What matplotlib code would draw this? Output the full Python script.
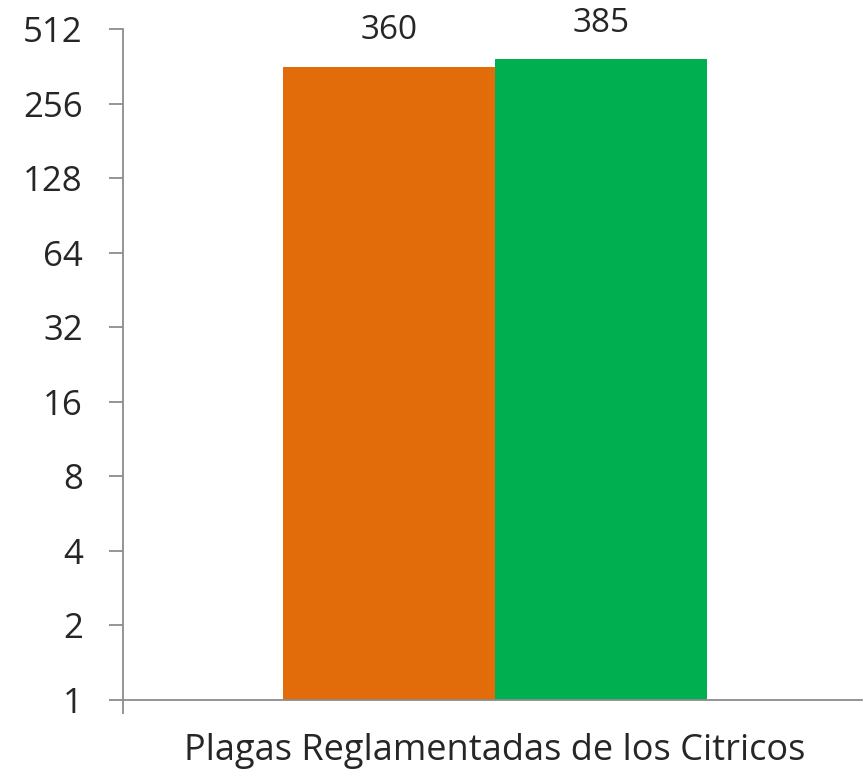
import matplotlib.pyplot as plt

category = "Plagas Reglamentadas de los Citricos"
series_values = [360, 385]
series_colors = ["#E36C0A", "#00B050"]
y_ticks = [1, 2, 4, 8, 16, 32, 64, 128, 256, 512]

plt.rcParams['font.family'] = ['Open Sans', 'DejaVu Sans']

fig = plt.figure(figsize=(8.63, 7.69), dpi=100)
ax = fig.add_axes([123 / 863, 1 - 700 / 769, 739 / 863, 671 / 769])

w = 212 / 739
xs = [-w / 2, w / 2]
for x, v, c in zip(xs, series_values, series_colors):
    ax.bar(x, v, width=w, color=c, bottom=1)
    ax.annotate(str(v), (x, v), xytext=(0, 26), textcoords='offset points',
                ha='center', va='center', fontsize=24, color='#262626')

ax.set_yscale('log', base=2)
ax.set_ylim(1, 512)
ax.set_yticks(y_ticks)
ax.set_yticklabels([str(t) for t in y_ticks])
ax.minorticks_off()
ax.set_xlim(-0.5035, 0.4965)
ax.set_xticks([0])
ax.set_xticklabels([category])
ax.set_xticks([-0.5035], minor=True)

for s in ['top', 'right']:
    ax.spines[s].set_visible(False)
for s in ['left', 'bottom']:
    ax.spines[s].set_color('#8C8C8C')
    ax.spines[s].set_linewidth(1.3)

ax.tick_params(axis='y', length=10, width=1.3, color='#8C8C8C', labelsize=25,
               labelcolor='#262626', pad=19)
ax.tick_params(axis='x', which='major', length=0, labelsize=26,
               labelcolor='#262626', pad=24)
ax.tick_params(axis='x', which='minor', length=10, width=1.3, color='#8C8C8C')

fig.savefig('out.png', dpi=100)
